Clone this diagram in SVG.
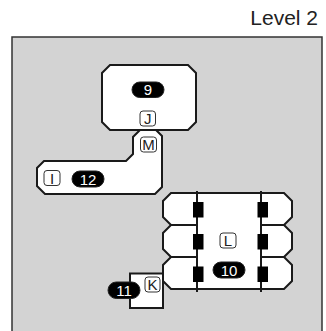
<svg xmlns="http://www.w3.org/2000/svg" width="326" height="331" viewBox="0 0 326 331">
<style>
.shape{fill:#fff;stroke:#1a1a1a;stroke-width:2;stroke-linejoin:miter}
.lbl{fill:#fff;stroke:#333;stroke-width:1}
.lt{font-family:"Liberation Sans",Arial,sans-serif;font-size:15px;fill:#222;text-anchor:middle}
.pill{fill:#000;stroke:#222;stroke-width:1}
.pt{font-family:"Liberation Sans",Arial,sans-serif;font-size:15px;fill:#fff;text-anchor:middle}
.port{fill:#000}
.bar{stroke:#1a1a1a;stroke-width:2}
</style>
<text x="318" y="25" font-family="Liberation Sans, Arial, sans-serif" font-size="21" fill="#222" text-anchor="end">Level 2</text>
<rect id="level" x="12" y="37" width="310" height="300" fill="#d3d3d3" stroke="#333" stroke-width="1.5"/>
<g id="connectors"></g>
<g id="node9">
<polygon class="shape" points="110,65 188,65 196,73 196,122 188,130 110,130 102,122 102,73"/>
<rect class="pill" x="132" y="82" width="32" height="15.5" rx="7.75"/>
<text class="pt" x="148" y="95">9</text>
<rect class="lbl" x="140" y="111" width="15.5" height="15" rx="3"/>
<text class="lt" x="147.75" y="124">J</text>
</g>
<g id="node12">
<polygon class="shape" points="140,130 156,130 162,136 162,187 155,194 45,194 37,186 37,168 44,161 126,161 133,154 133,137"/>
<rect class="lbl" x="140.5" y="137" width="16" height="15" rx="3"/>
<text class="lt" x="148.5" y="150">M</text>
<rect class="lbl" x="44" y="170.5" width="16" height="15" rx="3"/>
<text class="lt" x="52" y="183.5">I</text>
<rect class="pill" x="72" y="171" width="32" height="16" rx="8"/>
<text class="pt" x="88" y="184.5">12</text>
</g>
<g id="node10">
<rect x="197" y="193" width="64" height="96" fill="#fff" stroke="#1a1a1a" stroke-width="2"/>
<polygon class="shape" points="171,193 197,193 197,225 171,225 163,217 163,201"/>
<polygon class="shape" points="171,225 197,225 197,257 171,257 163,249 163,233"/>
<polygon class="shape" points="171,257 197,257 197,289 171,289 163,281 163,265"/>
<polygon class="shape" points="261,193 284,193 292,201 292,217 284,225 261,225"/>
<polygon class="shape" points="261,225 284,225 292,233 292,249 284,257 261,257"/>
<polygon class="shape" points="261,257 284,257 292,265 292,281 284,289 261,289"/>
<rect x="198" y="194" width="62" height="94" fill="#fff"/>
<line class="bar" x1="197" y1="191" x2="197" y2="292"/>
<line class="bar" x1="261" y1="191" x2="261" y2="292"/>
<rect class="port" x="193" y="202" width="10.5" height="15.5"/>
<rect class="port" x="193" y="234" width="10.5" height="15.5"/>
<rect class="port" x="193" y="266.5" width="10.5" height="15.5"/>
<rect class="port" x="257.5" y="202" width="10.5" height="15.5"/>
<rect class="port" x="257.5" y="234" width="10.5" height="15.5"/>
<rect class="port" x="257.5" y="266.5" width="10.5" height="15.5"/>
<rect class="lbl" x="220" y="233" width="16" height="15" rx="3"/>
<text class="lt" x="228" y="246">L</text>
<rect class="pill" x="213" y="262" width="32" height="16" rx="8"/>
<text class="pt" x="229" y="275.5">10</text>
</g>
<g id="node11">
<rect class="shape" x="130" y="273.5" width="33" height="34.5"/>
<rect class="lbl" x="145" y="277" width="15" height="15" rx="3"/>
<text class="lt" x="152.5" y="290">K</text>
<rect class="pill" x="108" y="282" width="32" height="16.5" rx="8.25"/>
<text class="pt" x="124" y="295.5">11</text>
</g>
</svg>
